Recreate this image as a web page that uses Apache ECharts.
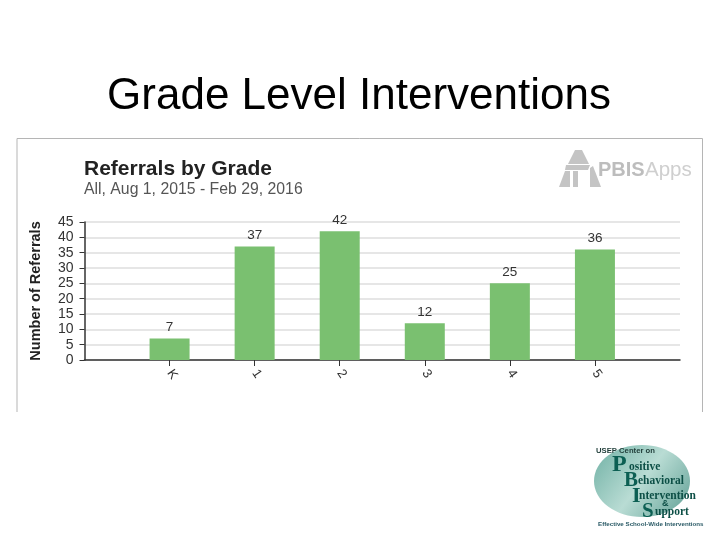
<!DOCTYPE html>
<html><head><meta charset="utf-8">
<style>html,body{margin:0;padding:0;background:#fff}#c{width:720px;height:540px}</style>
<script src="https://cdn.jsdelivr.net/npm/echarts@6/dist/echarts.min.js"></script>
</head><body><div id="c"></div>
<script>
const slideTitle = 'Grade Level Interventions';
const chartTitle = 'Referrals by Grade';
const chartSubtitle = 'All, Aug 1, 2015 - Feb 29, 2016';
const yAxisName = 'Number of Referrals';
const grades = ['', 'K', '1', '2', '3', '4', '5', ''];
const referrals = [null, 7, 37, 42, 12, 25, 36, null];

const chart = echarts.init(document.getElementById('c'), null, {renderer:'canvas'});
const sans = '"Liberation Sans", Arial, sans-serif';
const serif = '"Liberation Serif", serif';
const txt = (x,y,text,font,fill) => ({type:'text',x,y,silent:true,
  style:{text,font,fill,textVerticalAlign:'middle'}});
const gray = '#c4c4c4';
const poly = points => ({type:'polygon',silent:true,shape:{points},style:{fill:gray}});
chart.setOption({
  animation:false,
  backgroundColor:'#fff',
  title:[
    {text:slideTitle,left:354,top:70,textAlign:'center',textStyle:{fontFamily:sans,fontSize:44,fontWeight:'normal',color:'#000'}},
    {text:chartTitle,left:79,top:154,textStyle:{fontFamily:sans,fontSize:21,fontWeight:'bold',color:'#222'}},
    {text:chartSubtitle,left:79,top:177,textStyle:{fontFamily:sans,fontSize:15.8,fontWeight:'normal',color:'#555'}}
  ],
  grid:{left:84.5,right:40,top:222,height:138},
  xAxis:{type:'category',data:grades,boundaryGap:false,
    axisLine:{lineStyle:{color:'#333',width:1.5}},
    axisTick:{length:6,alignWithLabel:true,interval:(i,v)=>v!=='',lineStyle:{color:'#333'}},
    axisLabel:{interval:0,rotate:-55,margin:11,fontFamily:sans,fontSize:13,color:'#333'},
    splitLine:{show:false}},
  yAxis:{type:'value',min:0,max:45,interval:5,name:yAxisName,nameLocation:'middle',nameGap:41,
    nameTextStyle:{fontFamily:sans,fontSize:14.5,fontWeight:'bold',color:'#222'},
    axisLine:{show:true,lineStyle:{color:'#333',width:1.5}},
    axisTick:{show:true,length:5,lineStyle:{color:'#333'}},
    axisLabel:{margin:11,fontFamily:sans,fontSize:14,color:'#333'},
    splitLine:{show:true,lineStyle:{color:'#dedede',width:1.5}}},
  series:[{type:'bar',data:referrals,barWidth:40,itemStyle:{color:'#7ac070'},
    label:{show:true,position:'top',distance:4,fontFamily:sans,fontSize:13.5,color:'#333'}}],
  graphic:[
    {type:'polyline',silent:true,shape:{points:[[17,412],[17,138.5],[702.5,138.5],[702.5,412]]},style:{stroke:'#b5b5b5',lineWidth:1,fill:null}},
    // PBISApps logo
    poly([[575,150],[582,150],[589,164],[568,164]]),
    poly([[566,165],[590,165],[588,170],[565,170]]),
    poly([[559,187],[565,171],[570,171],[570,187]]),
    poly([[573,171],[578,171],[578,187],[573,187]]),
    poly([[590,187],[590,168],[593,166],[601,187]]),
    txt(598,170,'PBIS','bold 20px '+sans,'#bdbdbd'),
    txt(645,170,'Apps','20.5px '+sans,'#cfcfcf'),
    // PBIS center logo
    {type:'ellipse',silent:true,shape:{cx:642,cy:481,rx:48,ry:36},style:{fill:{type:'linear',x:0,y:0,x2:1,y2:1,colorStops:[{offset:0,color:'#6fb0a4'},{offset:.5,color:'#b9dcd4'},{offset:1,color:'#5f9f94'}]}}},
    txt(596,451,'USEP Center on','bold 7.7px '+sans,'#23403c'),
    txt(612,465,'P','bold 24px '+serif,'#0c5f53'),
    txt(629,467,'ositive','bold 11.5px '+serif,'#0c4f46'),
    txt(624,481,'B','bold 21px '+serif,'#0c5f53'),
    txt(638,481,'ehavioral','bold 11.5px '+serif,'#0c4f46'),
    txt(632,496,'I','bold 22px '+serif,'#0c5f53'),
    txt(639,496,'ntervention','bold 11.5px '+serif,'#0c4f46'),
    txt(662,504,'&','bold 9px '+sans,'#0c4f46'),
    txt(642,512,'S','bold 21px '+serif,'#0c5f53'),
    txt(655,512,'upport','bold 11.5px '+serif,'#0c4f46'),
    txt(598,524,'Effective School-Wide Interventions','bold 6.2px '+sans,'#2a5a66')
  ]
});
</script></body></html>
